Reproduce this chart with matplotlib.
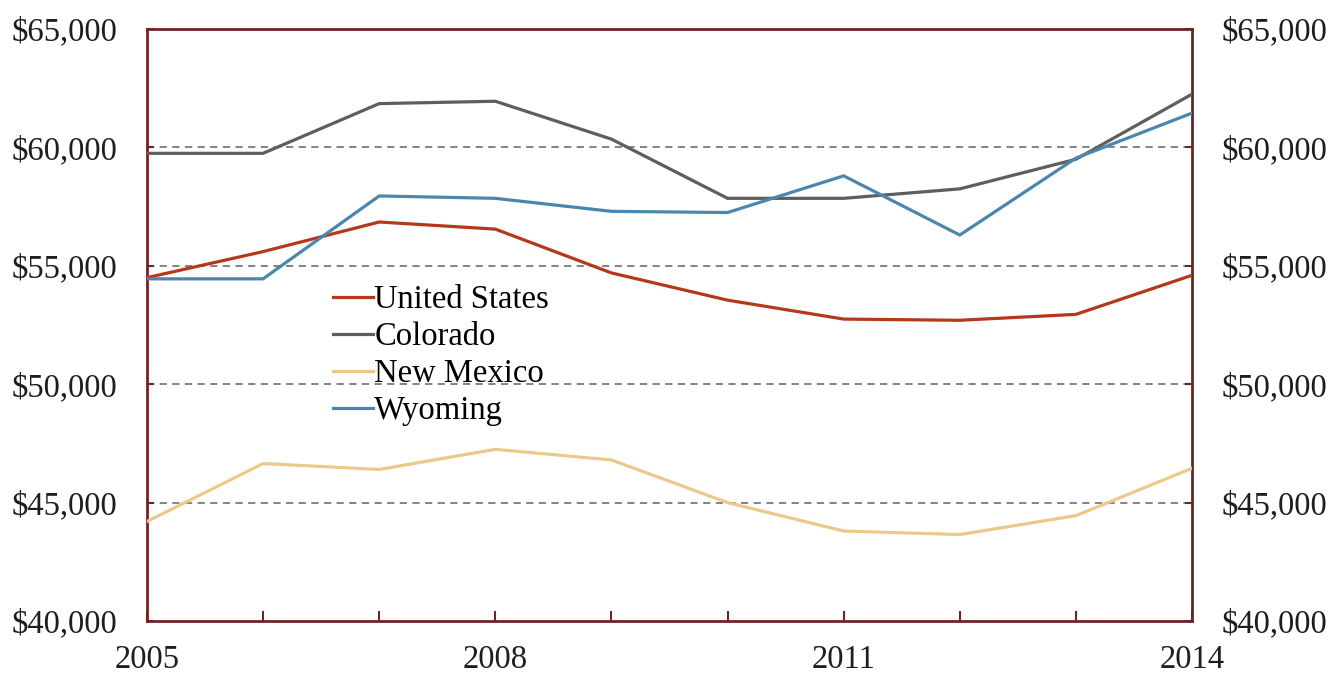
import numpy as np
import matplotlib.pyplot as plt
from matplotlib.ticker import FuncFormatter

years = [2005, 2006, 2007, 2008, 2009, 2010, 2011, 2012, 2013, 2014]
united_states = [54500, 55600, 56850, 56550, 54700, 53550, 52750, 52700, 52950, 54600]
colorado = [59750, 59750, 61850, 61950, 60350, 57850, 57850, 58250, 59500, 62250]
new_mexico = [44200, 46650, 46400, 47250, 46800, 45000, 43800, 43650, 44450, 46450]
wyoming = [54450, 54450, 57950, 57850, 57300, 57250, 58800, 56300, 59550, 61450]

series = [
    ("United States", united_states, "#B5381A"),
    ("Colorado", colorado, "#5E5E5E"),
    ("New Mexico", new_mexico, "#EBC98A"),
    ("Wyoming", wyoming, "#4B87AC"),
]

plt.rcParams["font.family"] = ["Liberation Serif", "DejaVu Serif"]

fig = plt.figure(figsize=(13.31, 6.75), dpi=100)
ax = fig.add_axes([0.1104, 0.08, 0.7852, 0.877])

for name, vals, col in series:
    ax.plot(years, vals, color=col, lw=2.3, label=name, zorder=3)

ax.set_xlim(2005, 2014)
ax.set_ylim(40000, 65000)
ax.set_yticks(np.arange(40000, 65001, 5000))
ax.set_xticks(years)
ax.set_xticklabels([str(y) if y in (2005, 2008, 2011, 2014) else "" for y in years])
ax.yaxis.set_major_formatter(FuncFormatter(lambda v, p: "${:,.0f}".format(v)))

for v in [45000, 50000, 55000, 60000]:
    ax.axhline(v, color="#7a7a7a", lw=1.3, ls=(0, (4, 3)), zorder=1)

frame = "#6E2424"
for s in ax.spines.values():
    s.set_color(frame)
    s.set_linewidth(2)

ax.tick_params(axis="y", direction="in", length=5, width=1.5, color=frame,
               left=True, right=True, labelleft=True, labelright=True,
               labelsize=23.5, pad=21, labelcolor="#1e1e1e")
ax.tick_params(axis="x", direction="in", length=7, width=1.5, color=frame,
               labelsize=23.5, pad=17, labelcolor="#1e1e1e")

ax.legend(loc="upper left", bbox_to_anchor=(0.166, 0.59), frameon=False,
          fontsize=23.5, handlelength=1.2, handletextpad=0.05, labelspacing=0.2,
          borderaxespad=0)

fig.savefig("out.png", dpi=100)
